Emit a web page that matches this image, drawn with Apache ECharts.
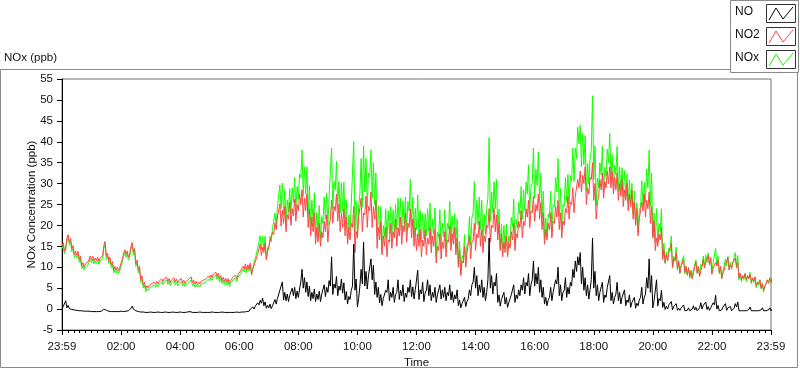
<!DOCTYPE html>
<html>
<head>
<meta charset="utf-8">
<script src="https://cdn.jsdelivr.net/npm/echarts@6/dist/echarts.min.js"></script>
<style>
html,body{margin:0;padding:0;background:#fff;}
#c{width:800px;height:369px;}
</style>
</head>
<body>
<div id="c"></div>
<script>
// One reading every 2.5 minutes from 23:59 (previous day) to 23:59; minutes since start
const STEP_MIN = 2.5;
const X_TICK_LABELS = ['23:59','02:00','04:00','06:00','08:00','10:00','12:00','14:00','16:00','18:00','20:00','22:00','23:59'];
const SERIES_NAMES = ['NO', 'NO2', 'NOx'];

const NO2 = [
15.1,15.9,13.9,14.8,17.0,17.8,16.0,16.9,14.4,15.2,13.1,13.9,12.9,13.8,11.9,12.7,10.4,11.1,10.0,10.8,
10.5,11.2,11.9,12.7,11.8,12.6,11.5,12.2,11.6,12.4,11.4,12.2,11.8,12.7,15.2,16.2,12.6,13.4,11.6,12.4,
10.6,11.4,9.4,10.2,9.3,10.0,9.2,10.0,11.0,11.9,13.3,14.2,13.1,13.9,12.4,13.2,15.0,15.9,13.6,14.5,
10.9,11.7,9.4,10.2,7.1,7.9,5.7,6.4,4.9,5.6,5.1,5.7,5.5,6.1,5.7,6.4,5.9,6.6,6.0,6.7,
6.5,7.2,6.6,7.3,6.9,7.6,6.6,7.3,6.3,7.0,6.8,7.5,6.5,7.2,6.3,6.9,6.6,7.3,
6.3,6.9,6.1,6.7,6.4,7.1,6.9,7.7,6.3,6.9,6.0,6.6,5.9,6.5,6.0,6.6,6.3,6.9,6.6,7.3,
7.2,7.9,7.4,8.2,7.6,8.4,8.0,8.8,7.8,8.6,7.2,8.0,6.8,7.6,6.6,7.4,6.5,7.3,6.1,6.9,
6.9,7.7,7.3,8.1,7.3,8.3,8.1,9.1,9.0,10.2,9.6,10.8,9.4,10.6,9.6,11.0,8.3,9.5,9.9,11.3,
11.3,13.1,13.5,15.5,12.8,14.8,13.5,15.7,11.8,13.8,13.8,16.2,16.0,18.4,17.8,20.6,19.0,22.0,21.8,25.2,
19.8,23.6,20.5,24.5,18.5,22.5,21.5,25.5,20.0,24.0,22.3,26.3,21.0,25.0,23.5,27.5,
25.0,28.5,22.0,26.5,23.5,27.5,19.5,24.0,17.5,22.0,18.5,23.0,15.5,19.5,16.0,20.5,15.0,18.5,17.0,21.0,
18.5,22.5,16.0,20.0,21.5,26.0,20.5,24.5,23.5,27.5,21.0,25.0,18.5,23.0,19.5,24.0,17.5,22.0,15.5,19.5,
16.5,20.5,19.5,24.5,13.5,18.5,17.0,22.0,22.0,26.5,18.5,23.0,22.5,27.0,19.5,24.5,23.5,28.0,19.5,24.5,
21.5,26.0,14.5,19.5,16.5,21.0,13.0,17.5,15.0,19.5,12.5,16.5,16.0,20.5,14.5,18.5,17.0,21.5,15.0,19.5,
17.5,22.0,15.5,20.0,18.5,23.0,16.0,20.5,19.5,24.0,17.0,21.5,15.0,19.5,14.0,18.0,
15.0,19.0,12.5,16.5,15.0,19.0,13.0,17.0,15.5,19.5,13.5,17.5,15.0,19.0,11.0,15.0,14.0,18.0,12.0,16.0,
14.5,18.5,12.5,16.5,16.0,20.0,14.0,18.0,15.5,19.5,13.0,17.0,10.0,14.0,8.0,11.5,11.0,15.0,10.0,13.5,
13.5,17.5,12.0,16.0,16.5,20.5,14.0,18.0,17.0,21.0,15.0,19.0,13.5,17.5,16.0,20.0,19.5,24.0,16.0,20.0,
19.5,24.0,18.5,22.5,16.5,20.5,14.0,18.0,12.5,16.0,13.5,17.5,12.5,16.0,14.5,18.5,16.5,20.5,14.0,18.0,
17.0,21.0,19.5,23.5,17.0,21.0,20.0,24.0,22.0,26.0,19.5,23.5,23.0,27.0,21.0,25.0,
23.5,27.5,21.5,25.5,19.0,23.0,15.5,19.0,16.5,20.5,19.0,23.0,17.0,21.0,20.5,24.5,22.0,26.0,19.0,23.0,
17.0,21.0,20.0,24.0,23.0,27.0,21.5,25.5,25.0,29.0,23.0,27.0,27.0,31.0,29.0,33.0,28.0,32.0,30.0,34.0,
25.0,29.0,27.5,31.5,31.0,35.0,26.0,30.0,21.5,25.5,27.0,31.0,28.5,32.5,26.5,30.5,29.0,33.0,30.0,34.0,
29.0,33.0,27.5,31.5,28.5,32.5,26.0,30.0,27.0,31.0,24.5,28.5,26.0,30.0,23.5,27.5,24.5,28.5,21.5,25.5,
20.0,24.0,17.5,21.5,21.5,25.5,23.5,27.5,22.0,26.0,24.0,28.0,20.5,24.5,17.0,21.0,
14.0,17.0,15.0,18.0,16.5,19.5,11.8,14.2,11.0,13.0,11.5,13.5,13.3,15.7,10.0,12.0,11.5,13.5,9.6,11.4,
8.7,10.3,10.2,11.8,8.8,10.2,8.3,9.7,7.8,9.2,7.3,8.7,9.7,11.3,8.8,10.2,7.8,9.2,10.2,11.8,
9.8,11.2,11.2,12.8,10.8,12.2,8.3,9.7,9.8,11.2,10.3,11.7,8.8,10.2,7.4,8.6,9.3,10.7,10.7,12.3,
9.4,10.6,9.9,11.1,10.8,12.2,9.9,11.1,7.4,8.6,7.0,8.0,7.5,8.5,7.0,8.0,7.3,8.3,6.5,7.5,
6.7,7.7,5.5,6.5,6.0,7.0,5.0,6.0,4.5,5.5,6.0,7.0,6.3,7.3,6.5,7.5
];

const NO = [
0.0,0.6,0.8,2.0,0.3,0.9,0.1,0.5,-0.1,0.3,-0.2,0.1,-0.3,0.0,-0.4,-0.2,-0.4,-0.2,-0.5,-0.3,
-0.5,-0.3,-0.5,-0.3,-0.6,-0.4,-0.6,-0.4,-0.6,-0.4,-0.6,-0.4,-0.5,-0.3,0.0,0.4,-0.3,-0.1,-0.5,-0.3,
-0.6,-0.4,-0.6,-0.4,-0.6,-0.4,-0.6,-0.4,-0.5,-0.3,-0.6,-0.4,-0.5,-0.3,-0.4,-0.2,0.2,0.7,0.0,0.2,
-0.4,-0.2,-0.6,-0.4,-0.7,-0.5,-0.7,-0.5,-0.8,-0.6,-0.8,-0.6,-0.7,-0.5,-0.8,-0.6,-0.8,-0.6,-0.7,-0.5,
-0.8,-0.6,-0.8,-0.6,-0.7,-0.5,-0.8,-0.6,-0.8,-0.6,-0.7,-0.5,-0.8,-0.6,-0.8,-0.6,-0.7,-0.5,
-0.8,-0.6,-0.8,-0.6,-0.7,-0.5,-0.6,-0.3,-0.8,-0.6,-0.8,-0.6,-0.8,-0.6,-0.7,-0.5,-0.8,-0.6,-0.8,-0.6,
-0.8,-0.6,-0.8,-0.6,-0.7,-0.5,-0.8,-0.6,-0.8,-0.6,-0.8,-0.6,-0.7,-0.5,-0.8,-0.6,-0.8,-0.6,-0.8,-0.6,
-0.8,-0.6,-0.8,-0.6,-0.7,-0.5,-0.8,-0.6,-0.7,-0.4,-0.7,-0.4,-0.6,-0.3,-0.5,0.0,-0.2,0.5,0.0,0.7,
0.6,1.5,1.0,2.1,1.4,2.6,0.8,1.7,0.2,0.9,0.3,1.2,0.1,0.8,1.0,2.3,1.2,2.5,2.6,4.5,
4.2,6.5,2.2,4.0,2.0,3.6,1.8,3.3,3.0,5.0,3.2,5.2,2.5,4.3,2.8,4.8,
6.5,9.5,5.0,7.5,4.0,6.5,3.0,5.5,2.0,4.0,2.5,4.8,1.8,3.6,2.3,4.3,1.8,3.6,3.5,5.8,
3.0,5.2,4.0,6.8,5.5,12.5,3.5,6.0,5.0,7.8,3.2,5.5,4.5,7.2,3.8,6.3,2.2,4.2,1.2,3.0,
2.3,4.5,5.5,15.5,4.5,7.2,0.5,2.5,5.5,9.5,6.0,16.0,5.5,9.0,4.8,8.0,8.0,12.0,7.0,10.5,
3.5,6.5,2.8,5.2,1.5,3.5,0.8,2.5,2.3,4.5,4.0,7.0,2.0,4.0,2.8,5.2,1.6,3.5,4.0,7.0,
2.3,4.5,3.2,5.8,1.8,3.8,2.8,5.2,4.0,7.0,3.0,5.3,2.4,4.6,5.0,9.3,
2.3,4.6,3.6,6.4,1.8,3.8,4.5,7.0,3.2,5.8,2.0,4.0,2.8,5.2,1.6,3.4,3.2,5.8,2.4,4.6,
2.8,5.2,2.0,4.0,3.2,5.8,2.2,4.2,1.6,3.4,2.4,4.6,0.8,2.2,0.3,1.3,1.2,2.8,0.6,1.8,
2.4,4.6,3.2,5.8,6.5,10.0,5.0,8.0,3.2,5.8,4.0,7.0,2.8,5.2,2.0,4.0,7.0,17.0,5.0,8.0,
3.6,6.4,5.5,8.5,1.6,3.4,0.7,2.3,2.0,4.0,1.2,2.8,0.4,1.6,1.6,3.4,3.2,5.8,1.6,3.4,
2.4,4.6,3.2,5.8,4.5,7.5,3.6,6.4,5.5,8.5,3.2,5.8,7.0,11.5,5.5,8.5,
6.0,10.0,4.0,7.0,2.8,5.2,1.2,2.8,0.8,2.2,2.8,5.2,2.0,4.0,4.0,7.0,6.0,10.0,3.2,5.8,
2.0,4.0,4.5,7.5,2.8,5.2,3.6,6.4,5.5,9.5,7.5,11.5,9.0,12.5,10.5,13.5,6.0,10.0,4.5,7.5,
3.2,5.8,2.4,4.6,7.0,17.0,5.0,9.0,3.2,5.8,2.0,4.0,3.6,6.4,1.6,3.4,2.8,5.2,5.0,8.0,
2.0,4.0,1.2,2.8,3.6,6.4,2.0,4.0,1.2,2.8,2.4,4.6,0.8,2.2,1.6,3.4,0.4,1.6,1.2,2.8,
0.2,1.4,0.8,2.2,2.8,5.2,1.2,2.8,3.5,7.5,5.0,12.0,4.0,8.0,0.3,2.0,
2.0,7.0,0.7,2.5,2.0,4.5,0.4,1.6,-0.1,0.7,0.0,1.0,0.6,1.8,-0.2,0.6,0.3,1.3,-0.3,0.2,
-0.3,0.3,0.1,1.0,-0.4,0.0,-0.3,0.3,-0.4,0.0,0.0,0.8,-0.2,0.4,-0.4,0.0,0.3,1.5,0.0,0.9,
0.5,1.7,-0.1,0.6,-0.3,0.3,0.3,1.5,1.0,3.3,0.0,0.9,-0.4,0.0,-0.2,0.5,0.2,1.3,-0.3,0.3,
-0.1,0.6,-0.4,0.0,0.2,1.3,0.5,1.7,-0.4,0.0,-0.4,-0.1,-0.4,0.0,-0.4,-0.1,-0.1,0.5,-0.4,-0.1,
-0.4,0.0,-0.4,-0.1,-0.4,-0.1,-0.2,0.3,-0.4,-0.1,-0.4,-0.1,-0.2,0.3,-0.4,0.0
];

const NOX = [
14.4,15.2,13.2,14.1,16.3,17.1,15.3,16.2,13.7,14.5,12.4,13.2,12.2,13.1,11.2,12.0,9.7,10.4,9.3,10.1,
9.8,10.5,11.2,12.0,11.1,11.9,10.8,11.5,10.9,11.7,10.7,11.5,11.1,12.0,14.5,15.5,11.9,12.7,10.9,11.7,
9.9,10.7,8.7,9.5,8.6,9.3,8.5,9.3,10.3,11.2,12.6,13.5,12.4,13.2,11.7,12.5,14.3,15.2,12.9,13.8,
10.2,11.0,8.7,9.5,6.4,7.2,5.0,5.7,4.2,4.9,4.4,5.0,4.8,5.4,5.0,5.7,5.2,5.9,5.3,6.0,
5.8,6.5,5.9,6.6,6.2,6.9,5.9,6.6,5.6,6.3,6.1,6.8,5.8,6.5,5.6,6.2,5.9,6.6,
5.6,6.2,5.4,6.0,5.7,6.4,6.2,7.0,5.6,6.2,5.3,5.9,5.2,5.8,5.3,5.9,5.6,6.2,5.9,6.6,
6.5,7.2,6.7,7.5,6.9,7.7,7.3,8.1,7.1,7.9,6.5,7.3,6.1,6.9,5.9,6.7,5.8,6.6,5.4,6.2,
6.2,7.0,6.6,7.4,6.6,7.6,7.4,8.4,8.3,9.5,8.9,10.1,8.7,9.9,9.1,11.0,8.1,10.0,9.9,12.0,
11.9,14.6,14.5,17.6,14.2,17.4,14.3,17.4,12.0,14.7,14.1,17.4,16.1,19.2,18.8,22.9,20.2,24.5,24.4,29.7,
24.0,30.1,22.7,28.5,20.5,26.1,23.3,28.8,23.0,29.0,25.5,31.5,23.5,29.3,26.3,32.3,
31.5,38.0,27.0,34.0,27.5,34.0,22.5,29.5,19.5,26.0,21.0,27.8,17.3,23.1,18.3,24.8,16.8,22.1,20.5,26.8,
21.5,27.7,20.0,26.8,27.0,38.5,24.0,30.5,28.5,35.3,24.2,30.5,23.0,30.2,23.3,30.3,19.7,26.2,16.7,22.5,
18.8,25.0,25.0,40.0,18.0,25.7,17.5,24.5,27.5,36.0,24.5,39.0,28.0,36.0,24.3,32.5,31.5,38.0,26.5,35.0,
25.0,32.5,17.3,24.7,18.0,24.5,13.8,20.0,17.3,24.0,16.5,23.5,18.0,24.5,17.3,23.7,18.6,25.0,19.0,26.5,
19.8,26.5,18.7,25.8,20.3,26.8,18.8,25.7,23.5,31.0,20.0,26.8,17.4,24.1,19.0,27.3,
17.3,23.6,16.1,22.9,16.8,22.8,17.5,24.0,18.7,25.3,15.5,21.5,17.8,24.2,12.6,18.4,17.2,23.8,14.4,20.6,
17.3,23.7,14.5,20.5,19.2,25.8,16.2,22.2,17.1,22.9,15.4,21.6,10.8,16.2,8.3,12.8,12.2,17.8,10.6,15.3,
15.9,22.1,15.2,21.8,23.0,30.5,19.0,26.0,20.2,26.8,19.0,26.0,16.3,22.7,18.0,24.0,26.5,41.0,21.0,28.0,
23.1,30.4,24.0,31.0,18.1,23.9,14.7,20.3,14.5,20.0,14.7,20.3,12.9,17.6,16.1,21.9,19.7,26.3,15.6,21.4,
19.4,25.6,22.7,29.3,21.5,28.5,23.6,30.4,27.5,34.5,22.7,29.3,30.0,38.5,26.5,33.5,
29.5,37.5,25.5,32.5,21.8,28.2,16.7,21.8,17.3,22.7,21.8,28.2,19.0,25.0,24.5,31.5,28.0,36.0,22.2,28.8,
19.0,25.0,24.5,31.5,25.8,32.2,25.1,31.9,30.5,38.5,30.5,38.5,36.0,43.5,39.5,44.0,34.0,42.0,34.5,41.5,
28.2,34.8,29.9,36.1,38.0,51.0,31.0,39.0,24.7,31.3,29.0,35.0,32.1,38.9,28.1,33.9,31.8,38.2,35.0,42.0,
31.0,37.0,28.7,34.3,32.1,38.9,28.0,34.0,28.2,33.8,26.9,33.1,26.8,32.2,25.1,30.9,24.9,30.1,22.7,28.3,
20.2,25.4,18.3,23.7,24.3,30.7,24.7,30.3,25.5,33.5,29.0,38.0,24.5,32.5,17.3,23.0,
16.0,24.0,15.7,20.5,18.5,24.0,12.2,15.8,10.9,13.7,11.5,14.5,13.9,17.5,9.8,12.6,11.8,14.8,9.3,11.6,
8.4,10.6,10.3,12.8,8.4,10.2,8.0,10.0,7.4,9.2,7.3,9.5,9.5,11.7,8.4,10.2,8.1,10.7,10.2,12.7,
10.3,12.9,11.1,13.4,10.5,12.5,8.6,11.2,10.8,14.5,10.3,12.6,8.4,10.2,7.2,9.1,9.5,12.0,10.4,12.6,
9.3,11.2,9.5,11.1,11.0,13.5,10.4,12.8,7.0,8.6,6.6,7.9,7.1,8.5,6.6,7.9,7.2,8.8,6.1,7.4,
6.3,7.7,5.1,6.4,5.6,6.9,4.8,6.3,4.1,5.4,5.6,6.9,6.1,7.6,6.1,7.5
];

const FONT = 'Liberation Sans';
const TXT = '#111';

function pairs(arr) { return arr.map((v, i) => [i * STEP_MIN, v]); }

const chart = echarts.init(document.getElementById('c'), null, { renderer: 'canvas' });

function legendItem(i, name, color) {
  const y0 = 4 + i * 23;
  return [
    { type: 'text', left: 735, top: y0 + 2, z: 20,
      style: { text: name, font: '12px ' + FONT, fill: TXT } },
    { type: 'rect', shape: { x: 766.5, y: y0 + 0.5, width: 29, height: 18 }, z: 20,
      style: { fill: '#fff', stroke: '#333', lineWidth: 1 } },
    { type: 'polyline', z: 21,
      shape: { points: [[769, y0 + 16], [776, y0 + 4], [783, y0 + 15], [793, y0 + 3]] },
      style: { stroke: color, lineWidth: 1, fill: null } }
  ];
}

const COLORS = { NO: '#000000', NO2: '#ff4545', NOx: '#14ff00' };

chart.setOption({
  animation: false,
  backgroundColor: '#fff',
  grid: { left: 62, right: 29, top: 79, bottom: 39, show: true, borderColor: '#707070', borderWidth: 1,
    backgroundColor: '#fff', containLabel: false, outerBoundsMode: 'none' },
  graphic: [
    { type: 'rect', shape: { x: 0.5, y: 69.5, width: 797, height: 298 }, z: -1,
      style: { fill: null, stroke: '#8a8a8a', lineWidth: 1 } },
    { type: 'rect', shape: { x: 730.5, y: 0.5, width: 68, height: 72 }, z: 19,
      style: { fill: '#fff', stroke: '#8a8a8a', lineWidth: 1 } },
    { type: 'text', left: 4, top: 52, z: 20,
      style: { text: 'NOx (ppb)', font: '11.5px ' + FONT, fill: TXT } },
    ...legendItem(0, SERIES_NAMES[0], COLORS.NO),
    ...legendItem(1, SERIES_NAMES[1], COLORS.NO2),
    ...legendItem(2, SERIES_NAMES[2], COLORS.NOx)
  ],
  xAxis: {
    type: 'value', min: 0, max: 1440, interval: 120,
    name: 'Time', nameLocation: 'middle', nameGap: 27, nameMoveOverlap: false,
    nameTextStyle: { fontFamily: FONT, fontSize: 11.5, color: TXT },
    axisLine: { onZero: false, lineStyle: { color: '#000', width: 1 } },
    axisTick: { length: 5, lineStyle: { color: '#000' } },
    minorTick: { show: true, splitNumber: 10, length: 3, lineStyle: { color: '#000' } },
    splitLine: { show: false }, minorSplitLine: { show: false },
    axisLabel: { margin: 11, fontFamily: FONT, fontSize: 11.5, color: TXT,
      showMinLabel: true, showMaxLabel: true,
      formatter: v => X_TICK_LABELS[Math.round(v / 120)] }
  },
  yAxis: {
    type: 'value', min: -5, max: 55, interval: 5,
    name: 'NOx Concentration (ppb)', nameLocation: 'middle', nameGap: 24, nameRotate: 90,
    nameMoveOverlap: false,
    nameTextStyle: { fontFamily: FONT, fontSize: 11.5, color: TXT },
    axisLine: { show: true, onZero: false, lineStyle: { color: '#000', width: 1 } },
    axisTick: { show: true, length: 5, lineStyle: { color: '#000' } },
    splitLine: { show: false },
    axisLabel: { margin: 9, fontFamily: FONT, fontSize: 11.5, color: TXT,
      showMinLabel: true, showMaxLabel: true, hideOverlap: false }
  },
  series: [
    { name: 'NOx', type: 'line', data: pairs(NOX), showSymbol: false, symbol: 'none',
      lineStyle: { color: COLORS.NOx, width: 1 }, itemStyle: { color: COLORS.NOx }, z: 2 },
    { name: 'NO2', type: 'line', data: pairs(NO2), showSymbol: false, symbol: 'none',
      lineStyle: { color: COLORS.NO2, width: 1 }, itemStyle: { color: COLORS.NO2 }, z: 3 },
    { name: 'NO', type: 'line', data: pairs(NO), showSymbol: false, symbol: 'none',
      lineStyle: { color: COLORS.NO, width: 1 }, itemStyle: { color: COLORS.NO }, z: 4 }
  ]
});
</script>
</body>
</html>
